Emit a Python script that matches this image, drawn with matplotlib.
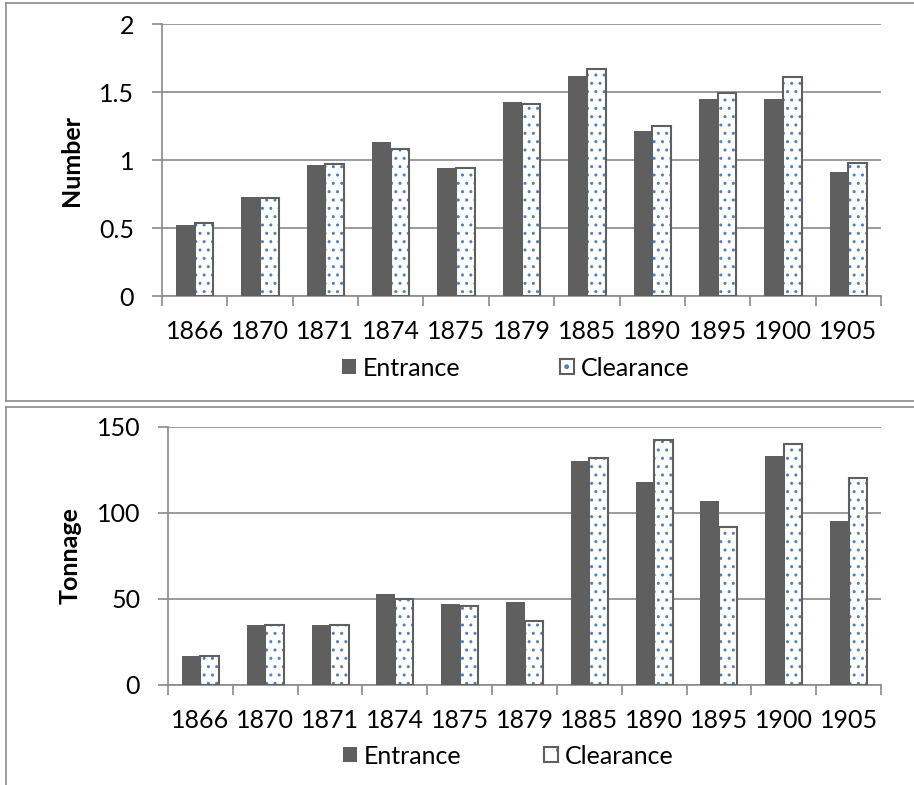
import numpy as np
import matplotlib
matplotlib.use("Agg")
import matplotlib.pyplot as plt
from matplotlib.patches import Patch
from matplotlib.lines import Line2D

plt.rcParams['font.family'] = ['Lato', 'DejaVu Sans']
plt.rcParams['hatch.linewidth'] = 1.0

years = ['1866', '1870', '1871', '1874', '1875', '1879', '1885', '1890', '1895', '1900', '1905']

# ship numbers
number_entrance = [0.52, 0.73, 0.96, 1.13, 0.94, 1.43, 1.62, 1.21, 1.45, 1.45, 0.91]
number_clearance = [0.54, 0.72, 0.97, 1.08, 0.94, 1.41, 1.67, 1.25, 1.49, 1.61, 0.98]

# tonnage
tonnage_entrance = [17, 35, 35, 53, 47, 48, 130, 118, 107, 133, 95]
tonnage_clearance = [17, 35, 35, 50, 46, 37, 132, 142, 92, 140, 120]

DARK = '#5f5f5f'
GRID = '#8a8a8a'
DOTS = '#4f81bd'
FS = 18

fig = plt.figure(figsize=(9.14, 7.85), dpi=100)

W, H = 914.0, 785.0


def fig_box(x0, y0, x1, y1):
    # pixel box (top-left origin) -> figure fraction rect
    return [x0 / W, 1 - y1 / H, (x1 - x0) / W, (y1 - y0) / H]


def frame(top, bottom):
    kw = dict(color='#8c8c8c', lw=1.2, transform=fig.transFigure)
    fig.add_artist(Line2D([6 / W, 1], [1 - top / H, 1 - top / H], **kw))
    fig.add_artist(Line2D([6 / W, 6 / W], [1 - top / H, 1 - bottom / H], **kw))
    if bottom < H:
        fig.add_artist(Line2D([6 / W, 1], [1 - bottom / H, 1 - bottom / H], **kw))


def draw_panel(ax, entrance, clearance, ymax, step, ylabel, label_x, legend_xy, colspace):
    x = np.arange(len(years))
    w = 0.286
    ax.bar(x - w / 2, entrance, w, color=DARK, linewidth=0, zorder=3)
    ax.bar(x + w / 2, clearance, w, color='white', edgecolor=DOTS, linewidth=0,
           hatch='..', zorder=3)
    ax.bar(x + w / 2, clearance, w, facecolor='none', edgecolor=DARK, linewidth=1.5,
           zorder=4)

    ax.set_xlim(-0.5, len(years) - 0.5)
    ax.set_ylim(0, ymax)
    ticks = np.arange(0, ymax + step / 2, step)
    ax.set_yticks(ticks)
    ax.set_yticklabels(['%g' % v for v in ticks])
    ax.yaxis.grid(True, color=GRID, lw=1.2, zorder=0)
    ax.set_axisbelow(True)

    ax.set_xticks(x)
    ax.set_xticklabels(years)
    ax.set_xticks(np.arange(-0.5, len(years)), minor=True)
    ax.tick_params(axis='x', which='major', length=0, pad=17, labelsize=FS)
    ax.tick_params(axis='x', which='minor', length=7, width=1.2, color=GRID)
    ax.tick_params(axis='y', length=7, width=1.2, color=GRID, pad=13, labelsize=FS)

    for s in ['top', 'right']:
        ax.spines[s].set_visible(False)
    for s in ['left', 'bottom']:
        ax.spines[s].set_color(GRID)
        ax.spines[s].set_linewidth(1.2)

    ax.set_ylabel(ylabel, fontsize=18, fontweight='bold')
    ax.yaxis.set_label_coords(label_x, 0.5)

    h_ent = Patch(facecolor=DARK, linewidth=0)
    h_dot = Patch(facecolor='white', edgecolor=DOTS, linewidth=0, hatch='.')
    h_box = Patch(facecolor='none', edgecolor=DARK, linewidth=1.5)
    fig.legend([h_ent, (h_dot, h_box)], ['Entrance', 'Clearance'], ncol=2,
               loc='center left', bbox_to_anchor=legend_xy, frameon=False, fontsize=FS,
               handlelength=0.56, handleheight=0.56, handletextpad=0.28,
               columnspacing=colspace, borderpad=0, borderaxespad=0)


ax1 = fig.add_axes(fig_box(162, 24, 881, 296))
draw_panel(ax1, number_entrance, number_clearance, 2, 0.5, 'Number', -0.110,
           (342 / W, 1 - 368 / H), 3.96)

ax2 = fig.add_axes(fig_box(168, 426.7, 881, 685))
draw_panel(ax2, tonnage_entrance, tonnage_clearance, 150, 50, 'Tonnage', -0.121,
           (343 / W, 1 - 756 / H), 3.3)

frame(3, 401)
frame(407, H + 10)

fig.savefig('out.png', dpi=100)
